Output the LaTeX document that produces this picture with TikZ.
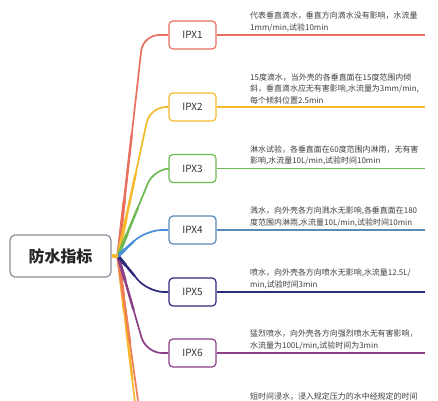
\documentclass[tikz,border=0pt]{standalone}
\usepackage{fontspec}
\usetikzlibrary{calc}
\setmainfont{Noto Sans CJK SC}
\begin{document}
\begin{tikzpicture}[x=1bp,y=-1bp,
  ipx/.style={draw=#1, line width=1.2bp, rounded corners=4bp, fill=white,
    minimum width=47bp, minimum height=28bp, inner sep=0pt,
    font=\fontsize{10}{12}\selectfont, text=black!80},
  branch/.style={draw=#1, line width=1.7bp, rounded corners=16bp},
  lead/.style={draw=#1, line width=1.2bp},
  desc/.style={anchor=south west, inner sep=0pt, align=left, text width=190bp,
    font=\fontsize{8}{11.5}\selectfont, text=black!75},
]
\definecolor{c1}{HTML}{E9705F}
\definecolor{c2}{HTML}{F5BA2C}
\definecolor{c3}{HTML}{6FB954}
\definecolor{c4}{HTML}{4A8FDB}
\definecolor{c4b}{HTML}{5A8AB6}
\definecolor{c5}{HTML}{2D2A7C}
\definecolor{c6}{HTML}{8B3F86}
\definecolor{c7}{HTML}{EE7D58}
\definecolor{c8}{HTML}{F7B52C}
\definecolor{rootc}{HTML}{8A909A}
\useasboundingbox (0,0) rectangle (438,400);
\fill[white] (0,0) rectangle (438,400);
\clip (0,0) rectangle (438,400);

% root
\node[draw=rootc, line width=1.2bp, rounded corners=5bp, fill=white,
  minimum width=101bp, minimum height=42bp, inner sep=0pt,
  font=\fontsize{16}{18}\selectfont\bfseries, text=black!85] (root) at (60.5,256) {防水指标};
\coordinate (j) at (118,256);

% corners of the branches
\coordinate (k1) at (143,35);
\coordinate (k2) at (150,107);
\coordinate (k3) at (154,168.5);
\coordinate (k4) at (146,230);
\coordinate (k5) at (148,292);
\coordinate (k6) at (146,353);
\coordinate (k7) at (140,415);
\coordinate (k8) at (144,480);
\coordinate (w7) at (169,415);
\coordinate (w8) at (169,480);

% boxes (for anchors)
\path (192.5,35) node[ipx=c1, draw=none, fill=none, text opacity=0] (b1) {IPX1}
      (192.5,107) node[ipx=c2, draw=none, fill=none, text opacity=0] (b2) {IPX2}
      (192.5,168.5) node[ipx=c3, draw=none, fill=none, text opacity=0] (b3) {IPX3}
      (192.5,230) node[ipx=c4b, draw=none, fill=none, text opacity=0] (b4) {IPX4}
      (192.5,292) node[ipx=c5, draw=none, fill=none, text opacity=0] (b5) {IPX5}
      (192.5,353) node[ipx=c6, draw=none, fill=none, text opacity=0] (b6) {IPX6};

% branches
\path[branch=c8] (j) -- (k8) -- (w8);
\path[branch=c7] (j) -- (k7) -- (w7);
\path[branch=c1] (j) -- (k1) -- (b1.west);
\path[branch=c2] (j) -- (k2) -- (b2.west);
\path[branch=c3] (j) -- (k3) -- (b3.west);
\path[branch=c6] (j) -- (k6) -- (b6.west);
\path[branch=c5] (j) -- (k5) -- (b5.west);
\path[branch=c4] (j) -- (k4) -- (b4.west);
% taper near the junction
\foreach \k/\c in {k8/c8,k7/c7,k1/c1,k2/c2,k3/c3,k6/c6,k5/c5,k4/c4}{
  \draw[\c, line width=2.4bp, line cap=round] (j) -- ($(j)!0.55!(\k)$);
  \draw[\c, line width=3.2bp, line cap=round] (j) -- ($(j)!0.25!(\k)$);
}
\draw[draw=c2, line width=4bp] (root.east) -- (j);

% boxes on top
\node[ipx=c1] at (b1) {IPX1};
\node[ipx=c2] at (b2) {IPX2};
\node[ipx=c3] at (b3) {IPX3};
\node[ipx=c4b] at (b4) {IPX4};
\node[ipx=c5] at (b5) {IPX5};
\node[ipx=c6] at (b6) {IPX6};

% leads / underlines
\coordinate (e1) at (425,35);
\coordinate (e2) at (425,107);
\coordinate (e3) at (425,168.5);
\coordinate (e4) at (425,230);
\coordinate (e5) at (425,292);
\coordinate (e6) at (425,353);
\draw[lead=c1] (b1.east) -- (e1);
\draw[lead=c2] (b2.east) -- (e2);
\draw[lead=c3] (b3.east) -- (e3);
\draw[lead=c4b] (b4.east) -- (e4);
\draw[lead=c5] (b5.east) -- (e5);
\draw[lead=c6] (b6.east) -- (e6);

% descriptions
\node[desc] (t1) at (250,32) {代表垂直滴水，垂直方向滴水没有影响，水流量\\1mm/min,试验10min};
\node[desc] (t2) at (250,104) {15度滴水，当外壳的各垂直面在15度范围内倾\\斜，垂直滴水应无有害影响,水流量为3mm/min,\\每个倾斜位置2.5min};
\node[desc] (t3) at (250,165.5) {淋水试验，各垂直面在60度范围内淋雨，无有害\\影响,水流量10L/min,试验时间10min};
\node[desc] (t4) at (250,227) {溅水，向外壳各方向溅水无影响,各垂直面在180\\度范围内淋雨,水流量10L/min,试验时间10min};
\node[desc] (t5) at (250,289) {喷水，向外壳各方向喷水无影响,水流量12.5L/\\min,试验时间3min};
\node[desc] (t6) at (250,350) {猛烈喷水，向外壳各方向强烈喷水无有害影响，\\水流量为100L/min,试验时间为3min};
\node[desc, anchor=base west] (t7) at (250,399) {短时间浸水，浸入规定压力的水中经规定的时间};
\end{tikzpicture}
\end{document}
